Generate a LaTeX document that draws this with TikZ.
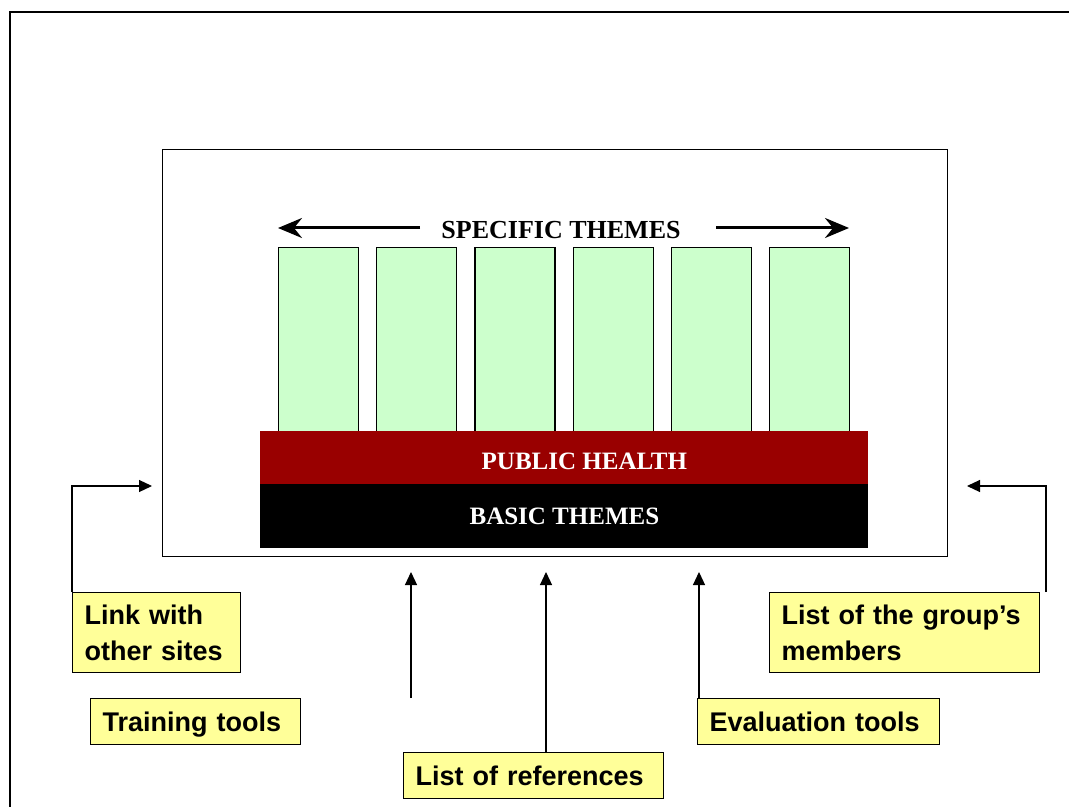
\documentclass[tikz,border=0pt]{standalone}
\usepackage{fontspec}
\setmainfont{Liberation Serif}
\newfontfamily\labelfont{Liberation Sans}
\usetikzlibrary{arrows.meta}

\definecolor{themegreen}{HTML}{CCFFCC}
\definecolor{healthred}{HTML}{990000}
\definecolor{toolyellow}{HTML}{FFFF99}

\begin{document}
\begin{tikzpicture}[x=0.5pt,y=-0.5pt]
            \useasboundingbox (0,0) rectangle (1069,807);
            \draw [line width=1pt] (10,807) -- (10,12) -- (1069,12);

            \node (site) [draw, line width=0.6pt, anchor=north west,
                          minimum width=392.5pt, minimum height=203.5pt] at (162,149) {};

            \begin{scope}[every node/.style={fill=themegreen, draw, line width=0.6pt,
                          anchor=north west, minimum width=40pt, minimum height=150pt}]
                \foreach \i in {0,...,5}
                    \node (th\i) at ({278+98.2*\i},247) {};
            \end{scope}

            \begin{scope}[every node/.style={anchor=north west, minimum width=304pt,
                          text=white, font=\bfseries\fontsize{12.5}{14}\selectfont}]
                \node (health) [fill=healthred, minimum height=26.5pt,
                                label={[white, xshift=10pt, yshift=-1.5pt, font=\bfseries\fontsize{12.5}{14}\selectfont]center:PUBLIC HEALTH}]
                                at (260,431) {};
                \node (basic) [fill=black, minimum height=32pt] at (260,484) {BASIC THEMES};
            \end{scope}

            \node (spec) [font=\bfseries\fontsize{13}{15}\selectfont] at (561,230) {SPECIFIC THEMES};
            \coordinate (specL) at (420,228);
            \coordinate (specR) at (716,228);
            \coordinate (specLtip) at (278,228);
            \coordinate (specRtip) at (849,228);

            \begin{scope}[every node/.style={fill=toolyellow, draw, line width=0.6pt,
                          anchor=north west, align=left, inner xsep=6pt,
                          font=\labelfont\bfseries\fontsize{13.5}{18}\selectfont}]
                \node (links) [text width=72pt, minimum height=40pt] at (72,592) {Link with\\other sites};
                \node (training) [text width=93pt, minimum height=23pt, text height=11.5pt, text depth=1.5pt] at (90,698) {Training tools};
                \node (refs) [text width=118pt, minimum height=23pt, text height=11.5pt, text depth=1.5pt] at (403,752) {List of references};
                \node (evaltools) [text width=109pt, minimum height=23pt, text height=11.5pt, text depth=1.5pt] at (697,698) {Evaluation tools};
                \node (members) [text width=123pt, minimum height=40pt] at (769,592) {List of the group’s\\members};
            \end{scope}

            \coordinate (linksin) at (152,486);
            \coordinate (membersin) at (967,486);
            \coordinate (membersout) at (1046,592);
            \coordinate (trainout) at (411,698);
            \coordinate (trainin) at (411,572);
            \coordinate (refsin) at (546,572);
            \coordinate (evalin) at (699,572);

            \begin{scope}[>={Stealth[length=12pt,width=10pt,inset=4pt]}, line width=1.5pt]
                \draw [->] (specL) -- (specLtip);
                \draw [->] (specR) -- (specRtip);
            \end{scope}

            \begin{scope}[>={Triangle[length=6.5pt,width=6pt]}, line width=0.6pt]
                \draw [->] (links.north west) |- (linksin);
                \draw [->] (membersout) |- (membersin);
                \draw [->] (trainout) -- (trainin);
                \draw [->] (refs.north -| refsin) -- (refsin);
                \draw [->] (evaltools.north -| evalin) -- (evalin);
            \end{scope}
        \end{tikzpicture}
\end{document}
